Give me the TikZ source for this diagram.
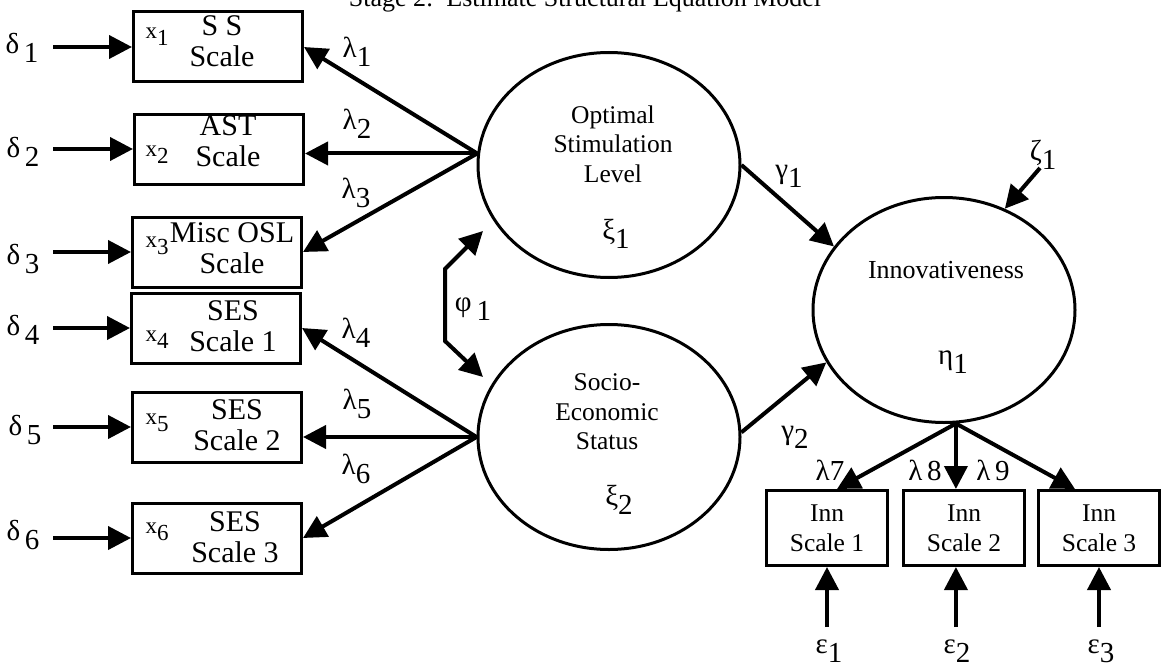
\documentclass[tikz,border=0pt]{standalone}
\usepackage{fontspec}
\setmainfont{Liberation Serif}
\usetikzlibrary{arrows.meta,shapes.geometric}

% letter with a lowered index digit
\newcommand{\lsub}[2]{#1\raisebox{-.3em}{#2}}

\begin{document}
\begin{tikzpicture}[x=1pt, y=-1pt,
  >={Triangle[length=23pt,width=23pt]},
  obsbox/.style={draw, line width=3pt, minimum width=169pt, minimum height=70pt, inner sep=0pt},
  innbox/.style={draw, line width=3pt, minimum width=121pt, minimum height=75pt, align=center, font=\fontsize{25.5}{30}\selectfont},
  latent/.style={draw, ellipse, line width=3pt, minimum width=262pt, minimum height=225pt, inner sep=0pt},
  btxt/.style={align=center, inner sep=0pt, font=\fontsize{30}{31}\selectfont},
  ltxt/.style={align=center, inner sep=0pt, font=\fontsize{25.5}{29.5}\selectfont},
  idx/.style={inner sep=0pt, font=\fontsize{23}{23}\selectfont},
  gr/.style={inner sep=0pt, font=\fontsize{29}{29}\selectfont},
  arr/.style={line width=4pt, ->},
]
\useasboundingbox (0,0) rectangle (1162,669);
\clip (0,0) rectangle (1162,669);

\node[font=\fontsize{26}{26}\selectfont, anchor=base] (title) at (585,7) {Stage 2:\ \ Estimate Structural Equation Model};

% indicators of the exogenous factors
\node[obsbox] (x1) at (218,47) {};
\node[obsbox] (x2) at (219,149) {};
\node[obsbox] (x3) at (217,252) {};
\node[obsbox] (x4) at (216,328) {};
\node[obsbox] (x5) at (217,427) {};
\node[obsbox] (x6) at (217,538) {};

\node[btxt] (x1t) at (222,41) {S S\\Scale};
\node[btxt] (x2t) at (228,141) {AST\\Scale};
\node[btxt] (x3t) at (232,248) {Misc OSL\\Scale};
\node[btxt] (x4t) at (233,326) {SES\\Scale 1};
\node[btxt] (x5t) at (237,425) {SES\\Scale 2};
\node[btxt] (x6t) at (235,537) {SES\\Scale 3};

\node[idx] (i1) at (157,37) {\lsub{x}{1}};
\node[idx] (i2) at (157,155) {\lsub{x}{2}};
\node[idx] (i3) at (157,246) {\lsub{x}{3}};
\node[idx] (i4) at (157,340) {\lsub{x}{4}};
\node[idx] (i5) at (157,423) {\lsub{x}{5}};
\node[idx] (i6) at (157,532) {\lsub{x}{6}};

% error terms
\node[gr] (d1) at (22,48) {\lsub{δ\,}{1}};
\node[gr] (d2) at (23,152) {\lsub{δ\,}{2}};
\node[gr] (d3) at (23,259) {\lsub{δ\,}{3}};
\node[gr] (d4) at (23,330) {\lsub{δ\,}{4}};
\node[gr] (d5) at (25,430) {\lsub{δ\,}{5}};
\node[gr] (d6) at (23,535) {\lsub{δ\,}{6}};
\coordinate (tl) at (53,0);
\foreach \i in {1,...,6}
  \draw[arr] (x\i.west -| tl) -- (x\i.west);

% latent variables
\node[latent] (osl) at (609,165) {};
\node[latent] (ses) at (609,437) {};
\node[latent] (innov) at (944,310) {};
\node[ltxt] (osltxt) at (613,144) {Optimal\\Stimulation\\Level};
\node[ltxt] (sestxt) at (607,412) {Socio-\\Economic\\Status};
\node[ltxt, font=\fontsize{26}{26}\selectfont] (innovtxt) at (946,270) {Innovativeness};
\node[gr] (xi1) at (616,234) {\lsub{ξ}{1}};
\node[gr] (xi2) at (619,500) {\lsub{ξ}{2}};
\node[gr] (eta1) at (953,362) {\lsub{η}{1}};

% loadings
\draw[arr] (osl.175) -- (x1.east);
\draw[arr] (osl.175) -- (osl.175 -| x2.east);
\draw[arr] (osl.175) -- (x3.east);
\draw[arr] (ses.west) -- (x4.east);
\draw[arr] (ses.west) -- (ses.west -| x5.east);
\draw[arr] (ses.west) -- (x6.east);
\node[gr] (l1) at (357,52) {\lsub{λ}{1}};
\node[gr] (l2) at (357,124) {\lsub{λ}{2}};
\node[gr] (l3) at (356,193) {\lsub{λ}{3}};
\node[gr] (l4) at (356,333) {\lsub{λ}{4}};
\node[gr] (l5) at (357,404) {\lsub{λ}{5}};
\node[gr] (l6) at (356,469) {\lsub{λ}{6}};

% correlation of the two factors
\coordinate (phitop) at (483,231);
\coordinate (phibot) at (483,377);
\draw[line width=4pt, <->] (phitop) -- ++(-38,38) -- ++(0,72) -- (phibot);
\node[gr] (phi1) at (473,309) {\lsub{φ\,}{1}};

% structural paths
\draw[arr] (osl.east) -- (innov.150);
\draw[arr] (ses.2) -- (innov.204);
\node[gr] (g1) at (789,176) {\lsub{γ}{1}};
\node[gr] (g2) at (795,437) {\lsub{γ}{2}};
\coordinate (zt) at (1040,168);
\draw[arr] (zt) -- (innov.59);
\node[gr] (z1) at (1043,155) {\lsub{ζ}{1}};

% indicators of innovativeness
\node[innbox] (y1) at (827,528) {Inn\\Scale 1};
\node[innbox] (y2) at (964,528) {Inn\\Scale 2};
\node[innbox] (y3) at (1099,528) {Inn\\Scale 3};
\draw[arr] (innov.-84) -- ([xshift=10pt]y1.north);
\draw[arr] (innov.-84) -- (innov.-84 |- y2.north);
\draw[arr] (innov.-84) -- ([xshift=-24pt]y3.north);
\node[gr] (l7) at (830,470) {λ7};
\node[gr] (l8) at (925,470) {λ\,8};
\node[gr] (l9) at (993,470) {λ\,9};

\coordinate (et) at (0,627);
\draw[arr] (y1.south |- et) -- (y1.south);
\draw[arr] (innov.-84 |- et) -- (innov.-84 |- y2.south);
\draw[arr] (y3.south |- et) -- (y3.south);
\node[gr] (e1) at (829,651) {\lsub{ε}{1}};
\node[gr] (e2) at (957,651) {\lsub{ε}{2}};
\node[gr] (e3) at (1101,651) {\lsub{ε}{3}};
\end{tikzpicture}
\end{document}
